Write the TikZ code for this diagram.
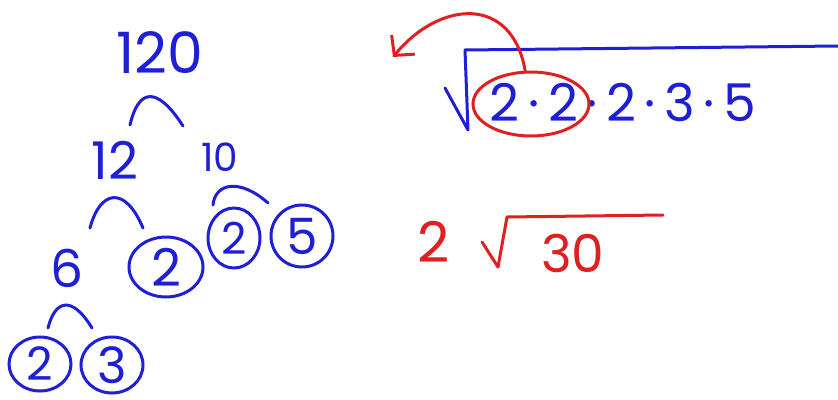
\documentclass[tikz,border=0pt]{standalone}
\usepackage{fontspec}
\setmainfont{Poppins}
\usetikzlibrary{arrows.meta,shapes.geometric}
\definecolor{inkB}{HTML}{1F1FD6}
\definecolor{inkR}{HTML}{E02020}

\begin{document}
\begin{tikzpicture}[x=1pt,y=-1pt,
  num/.style={inkB,inner sep=0pt,font=\fontsize{#1}{#1}\selectfont},
  num/.default=52,
  ring/.style={ellipse,draw,line width=3pt,inner sep=0pt},
  br/.style={draw=inkB,line width=3pt,line cap=round}]
\useasboundingbox (0,0) rectangle (838,399);
% factor tree
\node[num=57] (n120) at (160,53) {120};
\node[num] (n12) at (115,160) {12};
\node[num=39] (n10) at (220,157) {10};
\node[num] (n6) at (67,268) {6};
\node[num,ring,minimum width=74,minimum height=60] (c2a) at (166,267) {2};
\node[num=44,ring,minimum width=52,minimum height=60] (c2b) at (234,238) {2};
\node[num=50,ring,minimum width=62,minimum height=62] (c5) at (302,236) {5};
\node[num=46,ring,minimum width=62,minimum height=54] (c2c) at (40,364) {2};
\node[num=50,ring,minimum width=62,minimum height=56] (c3) at (112,365) {3};
\draw[br] (130,125) .. controls (138,90) and (156,84) .. (183,126);
\draw[br] (90,228) .. controls (100,190) and (125,185) .. (143,228);
\draw[br] (213,205) .. controls (215,183) and (240,178) .. (268,203);
\draw[br] (48,328) .. controls (55,300) and (72,295) .. (92,328);
% radical with the pair taken out
\draw[inkB,line width=3pt,line join=round,line cap=round] (445,88) -- (468,130) -- (465,50) -- (838,46);
\node[num] (prod) at (623,102) {2\,·\,2\,·\,2\,·\,3\,·\,5};
\node[ring,draw=inkR,minimum width=116,minimum height=64] (pair) at (531,104) {};
\coordinate (tip) at (393,57);
\draw[inkR,line width=3pt,line cap=round,-{Straight Barb[length=14pt,width=30pt]}]
  (pair.100) .. controls (512,-5) and (440,0) .. (tip);
% result
\node[num=56,inkR] (two) at (434,242) {2};
\draw[inkR,line width=3pt,line join=round,line cap=round] (482,242) -- (498,267) -- (507,217) -- (663,215);
\node[num,inkR] (thirty) at (573,253) {30};
\end{tikzpicture}
\end{document}
